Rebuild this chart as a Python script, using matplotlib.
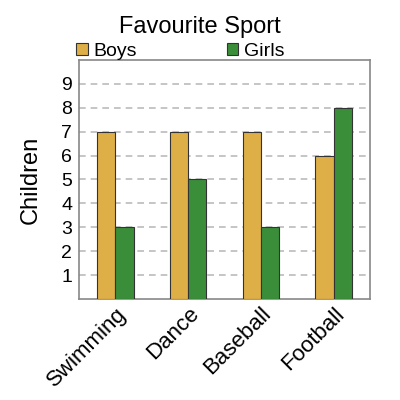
import matplotlib.pyplot as plt
import numpy as np

sports = ["Swimming", "Dance", "Baseball", "Football"]
boys = [7, 7, 7, 6]
girls = [3, 5, 3, 8]

plt.rcParams['font.family'] = ['Liberation Sans', 'DejaVu Sans']

fig = plt.figure(figsize=(4, 4), dpi=100)
ax = fig.add_axes([0.1975, 0.2525, 0.7275, 0.5975])

x = np.arange(len(sports))
w = 0.25
ax.bar(x - w / 2, boys, w, color="#DFAF47", edgecolor="#333333", linewidth=0.8, label="Boys", zorder=3)
ax.bar(x + w / 2, girls, w, color="#3A8E3A", edgecolor="#333333", linewidth=0.8, label="Girls", zorder=3)

ax.set_xlim(-0.5, 3.5)
ax.set_ylim(0, 10)
ax.set_yticks(range(1, 10))
ax.set_xticks(x)
ax.set_xticklabels(sports, rotation=45, ha="right", rotation_mode="anchor", fontsize=16)
ax.tick_params(axis="y", labelsize=14, length=0, pad=5)
ax.tick_params(axis="x", length=0, pad=3)
ax.yaxis.grid(True, linestyle=(0, (4, 3)), color="#BBBBBB", linewidth=1.2, zorder=0)
for s in ax.spines.values():
    s.set_color("#888888")
    s.set_linewidth(1.2)

ax.set_ylabel("Children", fontsize=17, labelpad=14)
fig.text(0.5, 0.932, "Favourite Sport", ha="center", va="center", fontsize=17)
ax.legend(loc="lower left", bbox_to_anchor=(-0.01, 1.0), ncol=2, frameon=False,
          fontsize=14, handlelength=0.6, handleheight=0.6, handletextpad=0.3,
          columnspacing=4.6, borderaxespad=0, borderpad=0)

fig.savefig("out.png", dpi=100)
